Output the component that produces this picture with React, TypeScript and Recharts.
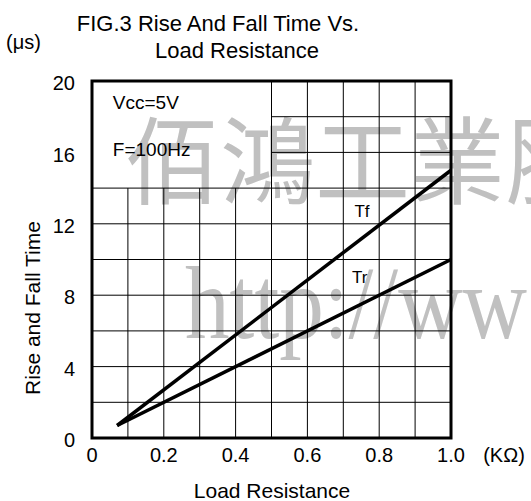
import React from 'react';
import { LineChart, Line, XAxis, YAxis, ReferenceLine, ReferenceArea, ReferenceDot } from 'recharts';

// values
const loadResistance = [0.07, 1.0];
const fallTime = [0.7, 15];
const riseTime = [0.7, 10];

const xTicks = [0, 0.2, 0.4, 0.6, 0.8, 1.0];
const yTicks = [0, 4, 8, 12, 16, 20];
const xGrid = [0.1, 0.2, 0.3, 0.4, 0.5, 0.6, 0.7, 0.8, 0.9];
const yGrid = [2, 4, 6, 8, 10, 12, 14, 16, 18];

const data = loadResistance.map((x, i) => ({ x, tf: fallTime[i], tr: riseTime[i] }));

const FONT = '"Liberation Sans", Arial, sans-serif';

export default function App() {
    return (
        <div style={{ position: 'absolute', left: 0, top: 0, width: 531, height: 501, background: '#fff', fontFamily: FONT }}>
            <LineChart width={531} height={501} data={data} margin={{ top: 81, right: 80, bottom: 33, left: 32 }}>
                <XAxis
                    type="number"
                    dataKey="x"
                    domain={[0, 1]}
                    ticks={xTicks}
                    tickFormatter={(v) => (v === 0 ? '0' : v.toFixed(1))}
                    axisLine={false}
                    tickLine={false}
                    tickMargin={4}
                    height={30}
                    tick={{ fill: '#000', fontSize: 20, fontFamily: FONT }}
                />
                <YAxis
                    type="number"
                    domain={[0, 20]}
                    ticks={yTicks}
                    axisLine={false}
                    tickLine={false}
                    tickMargin={11}
                    width={60}
                    tick={{ fill: '#000', fontSize: 20, fontFamily: FONT, dy: 2 }}
                />
                {/* grid, leaving the top-left box for the conditions text */}
                {xGrid.map((x) => (
                    <ReferenceLine
                        key={`vx-${x}`}
                        segment={[{ x, y: 0 }, { x, y: x < 0.5 ? 14 : 20 }]}
                        stroke="#000"
                        strokeWidth={1}
                    />
                ))}
                {yGrid.map((y) => (
                    <ReferenceLine
                        key={`hy-${y}`}
                        segment={[{ x: y > 14 ? 0.5 : 0, y }, { x: 1, y }]}
                        stroke="#000"
                        strokeWidth={1}
                    />
                ))}
                <ReferenceArea x1={0} x2={1} y1={0} y2={20} fill="none" stroke="#000" strokeWidth={3} />

                {/* watermark */}
                <text x={125} y={197} fontSize={95} fill="#c0c0c0" fontFamily='"Noto Sans CJK TC"'>佰鴻工業股</text>
                <text x={185} y={338} fontSize={104} fill="#c0c0c0" fontFamily='"Liberation Serif", serif' textLength={342} lengthAdjust="spacingAndGlyphs">http://ww</text>

                <Line dataKey="tf" stroke="#000" strokeWidth={3.5} dot={false} isAnimationActive={false} />
                <Line dataKey="tr" stroke="#000" strokeWidth={3.5} dot={false} isAnimationActive={false} />

                <ReferenceDot x={0.058} y={18.8} r={0} fill="none" stroke="none"
                    label={{ value: 'Vcc=5V', position: 'right', offset: 0, fill: '#000', fontSize: 19, fontFamily: FONT }} />
                <ReferenceDot x={0.058} y={16.2} r={0} fill="none" stroke="none"
                    label={{ value: 'F=100Hz', position: 'right', offset: 0, fill: '#000', fontSize: 19, fontFamily: FONT }} />
                <ReferenceDot x={0.752} y={12.7} r={0} fill="none" stroke="none"
                    label={{ value: 'Tf', position: 'center', fill: '#000', fontSize: 17, fontFamily: FONT }} />
                <ReferenceDot x={0.746} y={9.0} r={0} fill="none" stroke="none"
                    label={{ value: 'Tr', position: 'center', fill: '#000', fontSize: 17, fontFamily: FONT }} />

                <text x={218} y={31} textAnchor="middle" fontSize={22} fontFamily={FONT} fill="#000">FIG.3 Rise And Fall Time Vs.</text>
                <text x={237} y={58} textAnchor="middle" fontSize={22} fontFamily={FONT} fill="#000">Load Resistance</text>
                <text x={6} y={49} fontSize={20} fontFamily={FONT} fill="#000">(μs)</text>
                <text x={504} y={462} textAnchor="middle" fontSize={20} fontFamily={FONT} fill="#000">(KΩ)</text>
                <text x={272} y={498} textAnchor="middle" fontSize={21} fontFamily={FONT} fill="#000">Load Resistance</text>
                <text x={40} y={308} textAnchor="middle" fontSize={21} fontFamily={FONT} fill="#000" transform="rotate(-90 40 308)">Rise and Fall Time</text>
            </LineChart>
        </div>
    );
}
